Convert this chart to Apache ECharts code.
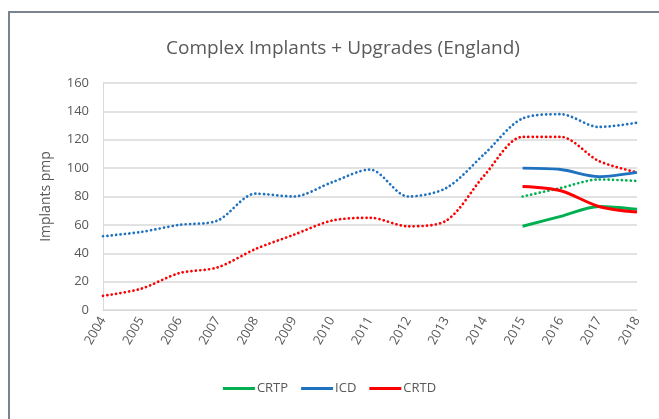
<!DOCTYPE html>
<html>
<head>
<meta charset="utf-8">
<script src="https://cdn.jsdelivr.net/npm/echarts@6/dist/echarts.min.js"></script>
<style>
    html, body {
        margin: 0;
        padding: 0;
        background: #fff;
    }
    .frame {
        position: absolute;
        left: 8px;
        top: 11px;
        width: 651px;
        height: 408px;
        border-left: 2px solid #7b8391;
        border-top: 2px solid #7b8391;
    }
    #chart {
        position: absolute;
        left: 0;
        top: 0;
        width: 659px;
        height: 419px;
    }
</style>
</head>
<body>
<div class="frame"></div>
<div id="chart"></div>
<script>
    let years = ['2004', '2005', '2006', '2007', '2008', '2009', '2010', '2011', '2012', '2013', '2014', '2015', '2016', '2017', '2018']

    // 实线（2015-2018）
    let crtp = [null, null, null, null, null, null, null, null, null, null, null, 59, 66, 73, 71]
    let icd = [null, null, null, null, null, null, null, null, null, null, null, 100, 99, 94, 97]
    let crtd = [null, null, null, null, null, null, null, null, null, null, null, 87, 84, 73, 69]

    // 虚线（趋势）
    let crtpDot = [null, null, null, null, null, null, null, null, null, null, null, 80, 86, 92, 91]
    let icdDot = [52, 55, 60, 63, 82, 80, 90, 99, 80, 86, 110, 135, 138, 129, 132]
    let crtdDot = [10, 15, 26, 30, 43, 53, 63, 65, 59, 63, 95, 122, 122, 105, 97]

    let yTicks = [0, 20, 40, 60, 80, 100, 120, 140, 160]

    let green = '#00b050'
    let blue = '#1f72c0'
    let red = '#ff0000'
    let grey = '#595959'
    let font = '"Open Sans", "Noto Sans", sans-serif'

    function solid(name, data, color) {
        return {
            name: name,
            type: 'line',
            data: data,
            color: color,
            smooth: 0.3,
            showSymbol: false,
            lineStyle: {width: 3, color: color}
        }
    }

    function dotted(name, data, color) {
        return {
            name: name,
            type: 'line',
            data: data,
            color: color,
            smooth: 0.3,
            showSymbol: false,
            lineStyle: {width: 2.7, color: color, type: [0.1, 4.3], cap: 'round'}
        }
    }

    let option = {
        animation: false,
        title: {
            text: 'Complex Implants + Upgrades (England)',
            left: 338,
            top: 34,
            textAlign: 'center',
            textStyle: {
                color: grey,
                fontSize: 19,
                fontWeight: 'normal',
                fontFamily: font
            }
        },
        legend: {
            data: ['CRTP', 'ICD', 'CRTD'],
            left: 'center',
            top: 377,
            icon: 'rect',
            itemWidth: 32,
            itemHeight: 3,
            itemGap: 13,
            textStyle: {color: grey, fontSize: 13, fontFamily: font, padding: [0, 0, 0, -3]}
        },
        grid: {
            left: 103,
            right: 22,
            top: 83,
            bottom: 109
        },
        xAxis: {
            type: 'category',
            data: years,
            boundaryGap: false,
            axisLine: {lineStyle: {color: '#d9d9d9', width: 1}},
            axisTick: {show: false},
            axisLabel: {
                rotate: 60,
                margin: 8,
                color: grey,
                fontSize: 13,
                fontFamily: font
            }
        },
        yAxis: {
            type: 'value',
            min: yTicks[0],
            max: yTicks[yTicks.length - 1],
            interval: yTicks[1] - yTicks[0],
            name: 'Implants pmp',
            nameLocation: 'middle',
            nameGap: 50,
            nameTextStyle: {color: grey, fontSize: 14, fontFamily: font},
            axisLine: {show: true, lineStyle: {color: '#d9d9d9', width: 1}},
            axisTick: {show: false},
            axisLabel: {color: grey, fontSize: 13, fontFamily: font, margin: 14},
            splitLine: {lineStyle: {color: '#d9d9d9', width: 1.5}}
        },
        series: [
            dotted('CRTP trend', crtpDot, green),
            dotted('ICD trend', icdDot, blue),
            dotted('CRTD trend', crtdDot, red),
            solid('CRTP', crtp, green),
            solid('ICD', icd, blue),
            solid('CRTD', crtd, red)
        ]
    }

    let chart = echarts.init(document.getElementById('chart'))
    chart.setOption(option)
</script>
</body>
</html>
